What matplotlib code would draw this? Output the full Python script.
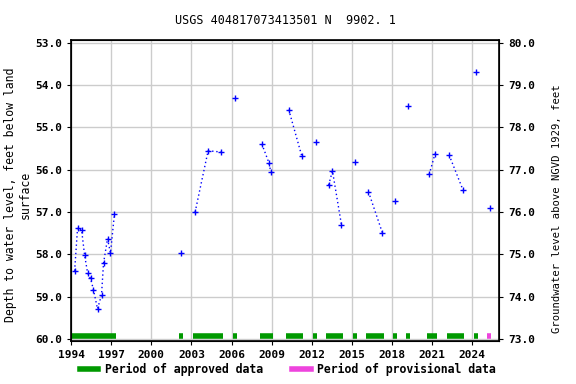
import numpy as np
import matplotlib
matplotlib.use("Agg")
import matplotlib.pyplot as plt
from matplotlib.lines import Line2D

# water level measurements (decimal year, depth below land surface in feet)
years = [1994.27, 1994.49, 1994.79, 1995.01, 1995.24, 1995.46, 1995.68, 1995.98,
         1996.28, 1996.43, 1996.73, 1996.95, 1997.25,
         2002.24,
         2003.28, 2004.25, 2005.21,
         2006.26,
         2008.27, 2008.79, 2008.94,
         2010.28, 2011.25,
         2012.29,
         2013.26, 2013.55, 2014.22,
         2015.27,
         2016.24, 2017.28,
         2018.25,
         2019.21,
         2020.78, 2021.22,
         2022.27, 2023.31,
         2024.30,
         2025.32]
depths = [58.39, 57.37, 57.42, 58.01, 58.44, 58.57, 58.84, 59.29,
          58.96, 58.21, 57.63, 57.97, 57.04,
          57.97,
          57.00, 55.55, 55.58,
          54.30,
          55.39, 55.83, 56.05,
          54.58, 55.67,
          55.34,
          56.36, 56.03, 57.30,
          55.81,
          56.52, 57.49,
          56.74,
          54.49,
          56.11, 55.62,
          55.65, 56.48,
          53.69,
          56.90]
# which dotted run each point belongs to
segment = [0] * 13 + [1] + [2] * 3 + [3] + [4] * 3 + [5] * 2 + [6] + [7] * 3 + [8] + \
          [9] * 2 + [10] + [11] + [12] * 2 + [13] * 2 + [14] + [15]

approved = [(1994.07, 1997.37), (2002.06, 2002.36), (2003.10, 2005.34), (2006.09, 2006.39),
            (2008.10, 2009.07), (2010.10, 2011.37), (2012.10, 2012.40), (2013.10, 2014.37),
            (2015.10, 2015.40), (2016.07, 2017.41), (2018.08, 2018.37), (2019.05, 2019.35),
            (2020.62, 2021.37), (2022.11, 2023.40), (2024.10, 2024.40)]
provisional = [(2025.14, 2025.44)]

datum = 133.0  # land surface elevation above NGVD 1929

plt.rcParams['font.family'] = 'DejaVu Sans Mono'
plt.rcParams['font.weight'] = 'bold'
plt.rcParams['font.size'] = 8

fig = plt.figure(figsize=(5.76, 3.84), dpi=100)
ax = fig.add_axes([0.1233, 0.112, 0.743, 0.785])

yrs = np.array(years)
dep = np.array(depths)
seg = np.array(segment)
for s in np.unique(seg):
    m = seg == s
    ax.plot(yrs[m], dep[m], color='blue', linestyle=(0, (1, 2)), linewidth=1,
            marker='+', markersize=4, markeredgewidth=1)

bar_y = 59.93
for a, b in approved:
    ax.plot([a, b], [bar_y, bar_y], color='#009900', linewidth=4, solid_capstyle='butt')
for a, b in provisional:
    ax.plot([a, b], [bar_y, bar_y], color='#ee44dd', linewidth=4, solid_capstyle='butt')

ylo, yhi = 52.92, 60.05
ax.set_xlim(1994, 2026)
ax.set_ylim(yhi, ylo)
ax.set_xticks(range(1994, 2026, 3))
ax.set_yticks(np.arange(53, 60.01, 1))
ax.yaxis.set_major_formatter(matplotlib.ticker.FormatStrFormatter('%.1f'))
ax.grid(True, color='#cccccc', linewidth=1)
ax.set_axisbelow(True)
ax.tick_params(length=3)
for sp in ax.spines.values():
    sp.set_linewidth(1.2)
ax.set_ylabel('Depth to water level, feet below land\nsurface', fontsize=8.3,
              labelpad=2)
ax.yaxis.label.set_y(0.485)

ax2 = ax.twinx()
ax2.set_ylim(datum - yhi, datum - ylo)
ax2.set_yticks(np.arange(73, 80.01, 1))
ax2.yaxis.set_major_formatter(matplotlib.ticker.FormatStrFormatter('%.1f'))
ax2.tick_params(length=3)
ax2.set_ylabel('Groundwater level above NGVD 1929, feet', fontsize=7.6, labelpad=12)
ax2.yaxis.label.set_y(0.44)

ax.set_title('USGS 404817073413501 N  9902. 1', fontsize=8.5, pad=11)

handles = [Line2D([0], [0], color='#009900', linewidth=4),
           Line2D([0], [0], color='#ee44dd', linewidth=4)]
fig.legend(handles, ['Period of approved data', 'Period of provisional data'],
           loc='lower center', bbox_to_anchor=(0.5, -0.005), ncol=2, frameon=False,
           fontsize=8.3, handlelength=1.6, handletextpad=0.6, columnspacing=2.5)

fig.savefig('out.png', dpi=100)
